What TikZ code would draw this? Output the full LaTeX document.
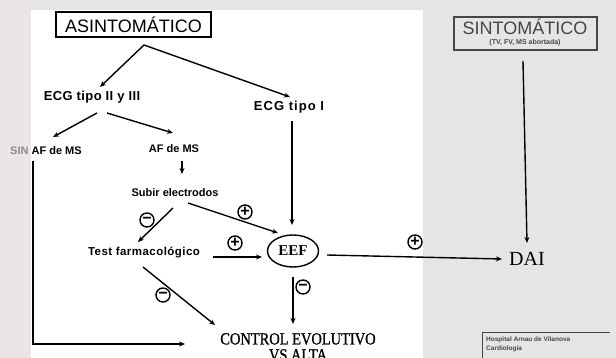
\documentclass[tikz,border=0pt]{standalone}
\usepackage{fontspec}
\setmainfont{Liberation Serif}
\setsansfont{Liberation Sans}
\usetikzlibrary{arrows.meta,calc,shapes.geometric}
\definecolor{bg}{RGB}{229,229,229}
\definecolor{pinkbg}{RGB}{236,229,231}
\definecolor{dgray}{RGB}{70,70,70}
\definecolor{mgray}{RGB}{140,140,140}
\begin{document}
\begin{tikzpicture}[x=1pt,y=-1pt,
  arr/.style={draw, line width=1.4pt, -{Stealth[length=6pt,width=5pt]}},
  lbl/.style={font=\sffamily\bfseries\fontsize{11}{13}\selectfont, inner sep=1pt},
  big/.style={font=\sffamily\bfseries\fontsize{13}{15}\selectfont\addfontfeatures{LetterSpace=3}, inner sep=1pt},
  sgn/.style={circle, draw, line width=1.4pt, minimum size=14pt, inner sep=0pt, font=\sffamily\bfseries\fontsize{16}{16}\selectfont}]
\useasboundingbox (0,0) rectangle (616,358);
\fill[bg] (0,0) rectangle (616,358);
\fill[pinkbg] (0,0) rectangle (31,358);
\fill[white] (31,10) rectangle (423,358);

% nodes
\node[draw, line width=1.2pt, font=\sffamily\fontsize{18}{20}\selectfont, minimum width=155pt, minimum height=25pt, inner sep=0pt] (asint) at (133.5,24.5) {ASINTOMÁTICO};
\node[big] (ecg23) at (92,97) {ECG tipo II y III};
\node[big, font=\sffamily\bfseries\fontsize{13}{15}\selectfont\addfontfeatures{LetterSpace=8}] (ecg1) at (289,107) {ECG tipo I};
\node[lbl] (sinaf) at (46,151) {\textcolor{mgray}{SIN} AF de MS};
\node[lbl] (af) at (174,149) {AF de MS};
\node[lbl] (subir) at (175,193) {Subir electrodos};
\node[lbl, font=\sffamily\bfseries\fontsize{11.5}{13}\selectfont\addfontfeatures{LetterSpace=4}] (test) at (144,253) {Test farmacológico};
\node[draw, ellipse, line width=1.4pt, minimum width=51pt, minimum height=32pt, inner sep=0pt, font=\rmfamily\bfseries\fontsize{15}{15}\selectfont] (eef) at (293,251) {EEF};
\node[font=\rmfamily\fontsize{20}{20}\selectfont, inner sep=1pt] (dai) at (527,259) {DAI};
\node[font=\rmfamily\fontsize{17}{16}\selectfont\addfontfeatures{FakeStretch=0.85,FakeBold=1}, align=center, inner sep=0pt, anchor=north] (ctrl) at (298,333) {CONTROL EVOLUTIVO\\VS ALTA};
\node[draw=dgray, line width=1.4pt, minimum width=143pt, minimum height=33pt, inner sep=0pt] (sint) at (525.5,33.5) {};
\node[text=dgray, font=\sffamily\fontsize{18}{20}\selectfont, inner sep=0pt] (sintt) at (525,27) {SINTOMÁTICO};
\node[text=dgray, font=\sffamily\bfseries\fontsize{7}{8}\selectfont, inner sep=0pt] (sints) at (525,43) {(TV, FV, MS abortada)};
\node[text=dgray, font=\sffamily\bfseries\fontsize{6.5}{9}\selectfont, align=left, anchor=north west, inner sep=0pt] (hosp) at (486,337) {Hospital Arnau de Vilanova\\Cardiología};
\draw[dgray, line width=1pt] ($(hosp.north west)+(-4,-5)$) -- ++(128,0);
\draw[dgray, line width=1pt] ($(hosp.north west)+(-4,-5)$) -- ++(0,30);

% connectors
\coordinate (apex) at ($(asint)+(10.5,20.5)$);
\draw[arr] (apex) -- ($(ecg23)+(8,-10)$);
\draw[arr] (apex) -- ($(ecg1)+(1,-10)$);
\draw[arr] ($(ecg23)+(5,16)$) -- ($(sinaf)+(7,-14)$);
\draw[arr] ($(ecg23)+(15,16)$) -- ($(af)+(-1,-16)$);
\draw[arr] ($(af)+(8,12)$) -- ($(subir)+(7,-19)$);
\draw[arr] ($(sinaf)+(-13,10)$) |- ($(ctrl.north)+(-113,11)$);
\draw[arr] ($(ecg1)+(3,14)$) -- ($(eef)+(-1,-26)$);
\draw[arr] ($(sint)+(-2.5,27.5)$) -- ($(dai)+(0,-16)$);
\draw[arr] ($(subir)+(13,10)$) -- ($(eef)+(-15,-18)$);
\draw[arr] ($(subir)+(-2,15)$) -- ($(test)+(-6,-11)$);
\draw[arr] ($(test)+(69,4)$) -- ($(eef)+(-31,6)$);
\draw[arr] ($(test)+(-1,14)$) -- ($(ctrl.north)+(-83,-8)$);
\draw[arr] ($(eef)+(0,26)$) -- ($(ctrl.north)+(-5,-9)$);
\draw[arr] ($(eef)+(34,4)$) -- ($(dai)+(-25,0)$);

% signs
\node[sgn] (s1) at ($(subir)+(70,19)$) {+};
\node[sgn] (s2) at ($(subir)+(-28,27)$) {−};
\node[sgn] (s3) at ($(test)+(91,-10)$) {+};
\node[sgn] (s4) at ($(test)+(19,42)$) {−};
\node[sgn] (s5) at ($(eef)+(10,36)$) {−};
\node[sgn] (s6) at ($(eef)+(122,-9)$) {+};
\end{tikzpicture}
\end{document}
